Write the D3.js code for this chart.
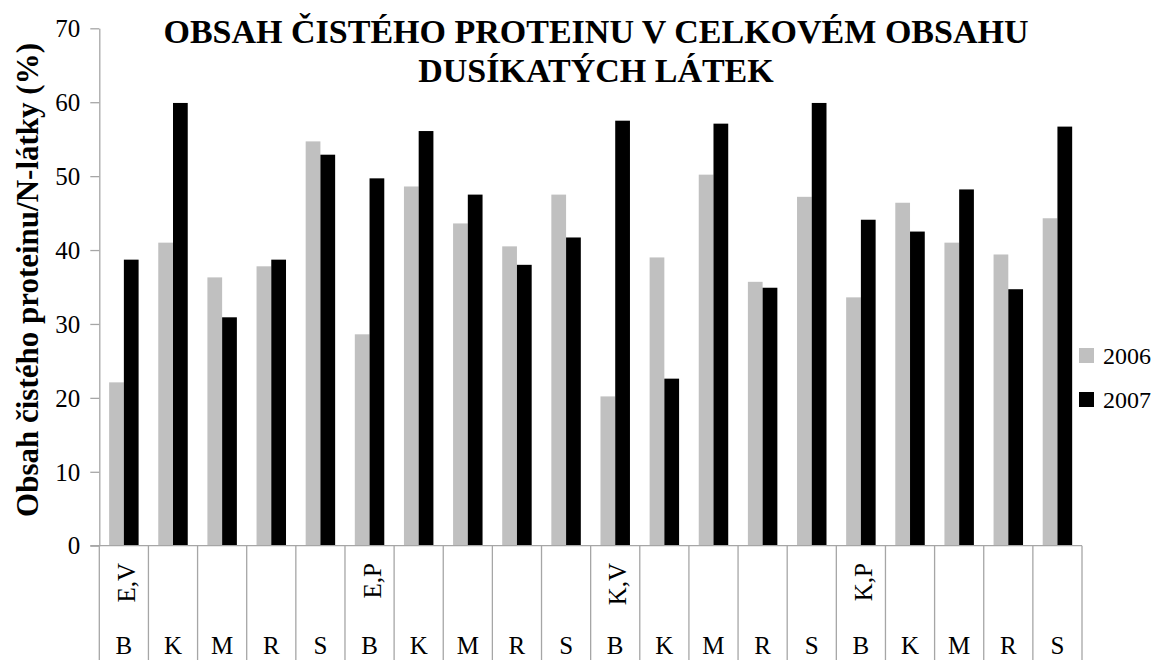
<!DOCTYPE html>
<html>
<head>
<meta charset="utf-8">
<script src="https://cdn.jsdelivr.net/npm/d3@7/dist/d3.min.js"></script>
<style>
  html, body { margin: 0; padding: 0; background: #fff; }
  svg { display: block; }
  svg text { font-family: "Liberation Serif", "Times New Roman", Times, serif !important; }
</style>
</head>
<body>
<svg id="chart" width="1156" height="660"></svg>
<script>
// ---- data ----
const groups = ["E,V", "E,P", "K,V", "K,P"];
const subs = ["B", "K", "M", "R", "S"];
const series = ["2006", "2007"];
const values2006 = [22.1, 41.0, 36.3, 37.8, 54.7, 28.6, 48.6, 43.6, 40.5, 47.5, 20.2, 39.0, 50.2, 35.7, 47.2, 33.6, 46.4, 41.0, 39.4, 44.3];
const values2007 = [38.7, 59.9, 30.9, 38.7, 52.9, 49.7, 56.1, 47.5, 38.0, 41.7, 57.5, 22.6, 57.1, 34.9, 59.9, 44.1, 42.5, 48.2, 34.7, 56.7];
const yTicks = [0, 10, 20, 30, 40, 50, 60, 70];
const titleLines = ["OBSAH ČISTÉHO PROTEINU V CELKOVÉM OBSAHU", "DUSÍKATÝCH LÁTEK"];
const yTitle = "Obsah čistého proteinu/N-látky (%)";
const colors = { "2006": "#c0c0c0", "2007": "#000000" };

(function () {
// ---- build table ----
const cats = [];
groups.forEach((g, gi) => subs.forEach((s, si) => cats.push({ id: gi * subs.length + si, group: g, sub: s, first: si === 0 })));
const rows = cats.map((c, i) => ({ ...c, "2006": values2006[i], "2007": values2007[i] }));

const svg = d3.select("#chart");
const pLeft = 99.3, pRight = 1082, pTop = 28.3, pBottom = 545.7;
const axisColor = "#a6a6a6";
const serif = '"Liberation Serif", "Times New Roman", Times, serif';

const x0 = d3.scaleBand().domain(rows.map(r => r.id)).range([pLeft, pRight]).paddingInner(0).paddingOuter(0);
const x1 = d3.scaleBand().domain(series).range([0, x0.bandwidth()]).paddingInner(0).paddingOuter(0.667);
const y = d3.scaleLinear().domain([0, 70]).range([pBottom, pTop]);

// bars
const g = svg.append("g");
rows.forEach(r => {
  series.forEach(s => {
    g.append("rect")
      .attr("x", x0(r.id) + x1(s))
      .attr("y", y(r[s]))
      .attr("width", x1.bandwidth())
      .attr("height", y(0) - y(r[s]))
      .attr("fill", colors[s]);
  });
});

// y axis
const yAxis = d3.axisLeft(y).tickValues(yTicks).tickSize(9).tickPadding(10).tickSizeOuter(0);
const ya = svg.append("g").attr("transform", `translate(${pLeft},0)`).call(yAxis).attr("font-family", serif);
ya.select(".domain").attr("stroke", axisColor).attr("stroke-width", 1.3);
ya.selectAll(".tick line").attr("stroke", axisColor).attr("stroke-width", 1.3);
ya.selectAll(".tick text").attr("font-size", 25).attr("fill", "#000").attr("dy", "0.33em");

// x axis baseline
svg.append("line").attr("x1", pLeft - 9).attr("x2", pRight).attr("y1", pBottom).attr("y2", pBottom)
  .attr("stroke", axisColor).attr("stroke-width", 1.3);

// category separators
const bounds = rows.map(r => x0(r.id)).concat([pRight]);
svg.append("g").selectAll("line").data(bounds).join("line")
  .attr("x1", d => d).attr("x2", d => d).attr("y1", pBottom).attr("y2", 660)
  .attr("stroke", axisColor).attr("stroke-width", 1.3);

// inner labels
svg.append("g").selectAll("text").data(rows).join("text")
  .attr("x", d => x0(d.id) + x0.bandwidth() / 2)
  .attr("y", 654)
  .attr("text-anchor", "middle")
  .attr("font-size", 25)
  .text(d => d.sub);

// group labels (rotated)
svg.append("g").selectAll("text").data(rows.filter(r => r.first)).join("text")
  .attr("transform", d => `translate(${x0(d.id) + x0.bandwidth() / 2 + 3},563) rotate(-90)`)
  .attr("text-anchor", "end")
  .attr("dy", "0.33em")
  .attr("font-size", 25)
  .text(d => d.group);

// title
svg.append("text").attr("x", 596).attr("y", 43).attr("text-anchor", "middle")
  .attr("font-size", 34).attr("font-weight", "bold").text(titleLines[0]);
svg.append("text").attr("x", 596).attr("y", 82).attr("text-anchor", "middle")
  .attr("font-size", 34).attr("font-weight", "bold").text(titleLines[1]);

// y title
svg.append("text").attr("transform", "translate(38,280) rotate(-90)")
  .attr("text-anchor", "middle").attr("font-size", 31).attr("font-weight", "bold").text(yTitle);

// legend
const legendY = [348, 392];
series.forEach((s, i) => {
  svg.append("rect").attr("x", 1079).attr("y", legendY[i]).attr("width", 15).attr("height", 15).attr("fill", colors[s]);
  svg.append("text").attr("x", 1103).attr("y", legendY[i] + 16).attr("font-size", 24).text(s);
});
})();
</script>
</body>
</html>
